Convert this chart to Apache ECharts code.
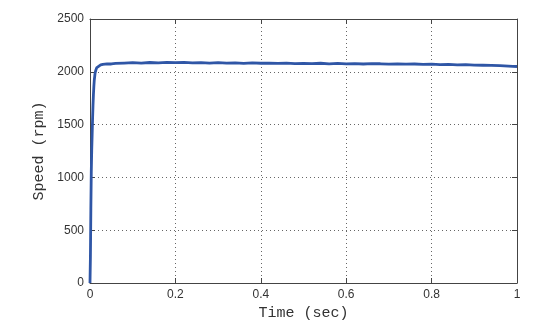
<!DOCTYPE html>
<html>
<head>
<meta charset="utf-8">
<script src="https://cdn.jsdelivr.net/npm/echarts@6/dist/echarts.min.js"></script>
<style>
  html, body { margin: 0; padding: 0; background: #fff; }
  #chart { width: 541px; height: 326px; }
</style>
</head>
<body>
<div id="chart"></div>
<script>
// motor speed step response
const timeSec = [
  0, 0.001, 0.002, 0.003, 0.004, 0.005, 0.006, 0.007, 0.008, 0.009, 0.010,
  0.012, 0.014, 0.016, 0.018, 0.020, 0.025, 0.03, 0.04, 0.05, 0.06, 0.08,
  0.10, 0.12, 0.14, 0.16, 0.18, 0.20, 0.22, 0.24, 0.26, 0.28, 0.30, 0.32,
  0.34, 0.36, 0.38, 0.40, 0.42, 0.44, 0.46, 0.48, 0.50, 0.52, 0.54, 0.56,
  0.58, 0.60, 0.62, 0.64, 0.66, 0.68, 0.70, 0.72, 0.74, 0.76, 0.78, 0.80,
  0.82, 0.84, 0.86, 0.88, 0.90, 0.92, 0.94, 0.96, 0.98, 0.99, 1.0
];
const speedRpm = [
  0, 250, 700, 1050, 1250, 1400, 1550, 1680, 1780, 1860, 1920,
  1990, 2020, 2040, 2050, 2058, 2065, 2070, 2076, 2074, 2080, 2083,
  2086, 2082, 2088, 2085, 2090, 2086, 2089, 2084, 2087, 2083, 2086, 2082,
  2085, 2080, 2084, 2081, 2083, 2079, 2082, 2078, 2080, 2077, 2081, 2076,
  2079, 2075, 2078, 2074, 2077, 2076, 2073, 2076, 2072, 2074, 2070, 2072,
  2068, 2071, 2066, 2068, 2064, 2062, 2060, 2058, 2054, 2052, 2050
];
const xTicks = [0, 0.2, 0.4, 0.6, 0.8, 1];
const yTicks = [0, 500, 1000, 1500, 2000, 2500];

const chart = echarts.init(document.getElementById('chart'), null, { renderer: 'canvas' });

const axisColor = '#444';
const labelFont = { color: '#333', fontSize: 12, fontFamily: 'Liberation Sans, Arial, sans-serif' };
const nameFont = { color: '#333', fontSize: 15, fontFamily: 'Liberation Mono, Courier New, monospace' };
const gridLine = { show: true, lineStyle: { color: '#666', type: [1, 3], width: 1 } };
const tick = { show: true, inside: true, length: 5, lineStyle: { color: axisColor } };
const line = { show: true, onZero: false, lineStyle: { color: axisColor, width: 1 } };

chart.setOption({
  animation: false,
  grid: { left: 90, right: 24, top: 19, bottom: 43 },
  xAxis: [
    {
      type: 'value', min: 0, max: 1, interval: 0.2,
      name: 'Time (sec)', nameLocation: 'middle', nameGap: 10,
      nameTextStyle: nameFont,
      axisLine: line, axisTick: tick,
      axisLabel: Object.assign({ margin: 6, formatter: v => xTicks.includes(+v.toFixed(1)) ? String(+v.toFixed(1)) : '' }, labelFont),
      splitLine: gridLine
    },
    {
      type: 'value', min: 0, max: 1, interval: 0.2, position: 'top',
      axisLine: line, axisTick: tick,
      axisLabel: { show: false }, splitLine: { show: false }
    }
  ],
  yAxis: [
    {
      type: 'value', min: 0, max: 2500, interval: 500,
      name: 'Speed (rpm)', nameLocation: 'middle', nameGap: 37,
      nameTextStyle: nameFont,
      axisLine: line, axisTick: tick,
      axisLabel: Object.assign({ margin: 6, formatter: v => yTicks.includes(v) ? String(v) : '' }, labelFont),
      splitLine: gridLine
    },
    {
      type: 'value', min: 0, max: 2500, interval: 500, position: 'right',
      axisLine: line, axisTick: tick,
      axisLabel: { show: false }, splitLine: { show: false }
    }
  ],
  series: [{
    type: 'line',
    data: timeSec.map((t, i) => [t, speedRpm[i]]),
    showSymbol: false,
    lineStyle: { color: '#2f56a6', width: 2.8 },
    z: 5
  }]
});
</script>
</body>
</html>
